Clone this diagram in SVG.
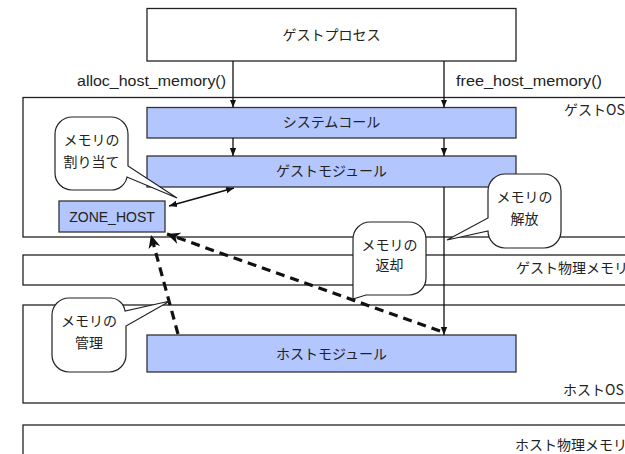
<svg xmlns="http://www.w3.org/2000/svg" width="625" height="454" viewBox="0 0 625 454">
<style>
  .frame { fill: #ffffff; stroke: #222222; stroke-width: 1.3; }
  .mod { fill: #b3c6fd; stroke: #333333; stroke-width: 1.3; }
  .bubble { fill: #ffffff; stroke: #222222; stroke-width: 1.2; }
  .jp { font-family: "Noto Sans CJK JP", "Liberation Sans", sans-serif; font-size: 14px; fill: #222222; }
  .lat { font-family: "Liberation Sans", "Noto Sans CJK JP", sans-serif; font-size: 14px; fill: #222222; }
  .mid { text-anchor: middle; }
  .line { fill: none; stroke: #111111; stroke-width: 1.3; }
  .dline { fill: none; stroke: #111111; stroke-width: 1.6; }
  .dash { fill: none; stroke: #111111; stroke-width: 3.2; stroke-dasharray: 9 6; }
</style>
<defs>
  <marker id="arr" markerUnits="userSpaceOnUse" markerWidth="8" markerHeight="8" viewBox="0 0 8 8" refX="8" refY="4" orient="auto">
    <path d="M0,0.8 L8,4 L0,7.2 Z" fill="#111111"/>
  </marker>
  <marker id="arrS" markerUnits="userSpaceOnUse" markerWidth="8" markerHeight="8" viewBox="0 0 8 8" refX="0" refY="4" orient="auto">
    <path d="M8,0.8 L0,4 L8,7.2 Z" fill="#111111"/>
  </marker>
  <marker id="bold" markerUnits="userSpaceOnUse" markerWidth="14" markerHeight="14" viewBox="0 0 14 14" refX="13" refY="7" orient="auto">
    <path d="M0,1 L13,7 L0,13 L4,7 Z" fill="#111111"/>
  </marker>
</defs>

<g id="layers">
  <rect id="guest-os" class="frame" x="23" y="97.5" width="700" height="139.5"/>
  <rect id="guest-phys" class="frame" x="23" y="255" width="700" height="30"/>
  <rect id="host-os" class="frame" x="23" y="305" width="700" height="98"/>
  <rect id="host-phys" class="frame" x="23" y="425" width="700" height="40"/>
</g>
<g id="layer-labels">
  <text class="jp" x="564" y="115">ゲストOS</text>
  <text class="jp" x="516" y="273">ゲスト物理メモリ</text>
  <text class="jp" x="563" y="395">ホストOS</text>
  <text class="jp" x="515" y="450">ホスト物理メモリ</text>
</g>

<g id="guest-process">
  <rect class="frame" x="147" y="8.5" width="369" height="52.5"/>
  <text class="jp mid" x="331.5" y="40">ゲストプロセス</text>
</g>
<g id="system-call">
  <rect class="mod" x="147" y="107.5" width="369" height="30.5"/>
  <text class="jp mid" x="331.5" y="127">システムコール</text>
</g>
<g id="guest-module">
  <rect class="mod" x="147" y="156" width="369" height="31"/>
  <text class="jp mid" x="331.5" y="176">ゲストモジュール</text>
</g>
<g id="zone-host">
  <rect class="mod" x="59" y="201" width="106" height="31"/>
  <text class="lat mid" x="112" y="222">ZONE_HOST</text>
</g>
<g id="host-module">
  <rect class="mod" x="147" y="335" width="369" height="37"/>
  <text class="jp mid" x="331.5" y="359">ホストモジュール</text>
</g>

<g id="connectors">
  <line class="line" x1="233" y1="61" x2="233" y2="107.5" marker-end="url(#arr)"/>
  <line class="line" x1="444" y1="61" x2="444" y2="107.5" marker-end="url(#arr)"/>
  <line class="line" x1="233" y1="138" x2="233" y2="156" marker-end="url(#arr)"/>
  <line class="line" x1="444" y1="138" x2="444" y2="156" marker-end="url(#arr)"/>
  <line class="line" x1="444" y1="187" x2="444" y2="335" marker-end="url(#arr)"/>
  <line class="dline" x1="169" y1="206" x2="234" y2="188" marker-start="url(#arrS)" marker-end="url(#arr)"/>
  <line class="dash" x1="178" y1="334" x2="151" y2="235" marker-end="url(#bold)"/>
  <line class="dash" x1="440" y1="331" x2="167" y2="234" marker-end="url(#bold)"/>
  <text class="lat" x="77" y="86" textLength="149" lengthAdjust="spacingAndGlyphs">alloc_host_memory()</text>
  <text class="lat" x="456" y="86" textLength="146" lengthAdjust="spacingAndGlyphs">free_host_memory()</text>
</g>

<g id="callout-alloc">
  <path class="bubble" d="M72,117 H111 A17,17 0 0 1 128,134 V166 L177,198 L127,177 A16,16 0 0 1 111,190 H72 A17,17 0 0 1 55,173 V134 A17,17 0 0 1 72,117 Z"/>
  <text class="jp mid" x="91.5" y="145">メモリの</text>
  <text class="jp mid" x="91.5" y="167">割り当て</text>
</g>
<g id="callout-free">
  <path class="bubble" d="M505,174 H544 A17,17 0 0 1 561,191 V231 A17,17 0 0 1 544,248 H505 A17,17 0 0 1 488,231 L447,240 L488,218 V191 A17,17 0 0 1 505,174 Z"/>
  <text class="jp mid" x="524.5" y="202">メモリの</text>
  <text class="jp mid" x="524.5" y="224">解放</text>
</g>
<g id="callout-return">
  <path class="bubble" d="M370,222 H409 A17,17 0 0 1 426,239 V278 A17,17 0 0 1 409,295 H366 L353,299 V239 A17,17 0 0 1 370,222 Z"/>
  <text class="jp mid" x="389.5" y="250">メモリの</text>
  <text class="jp mid" x="389.5" y="270">返却</text>
</g>
<g id="callout-manage">
  <path class="bubble" d="M69,298 H111 A15,15 0 0 1 125,311 L170,301 L126,326 V355 A17,17 0 0 1 109,372 H69 A17,17 0 0 1 52,355 V315 A17,17 0 0 1 69,298 Z"/>
  <text class="jp mid" x="89" y="326">メモリの</text>
  <text class="jp mid" x="89" y="348">管理</text>
</g>
</svg>
